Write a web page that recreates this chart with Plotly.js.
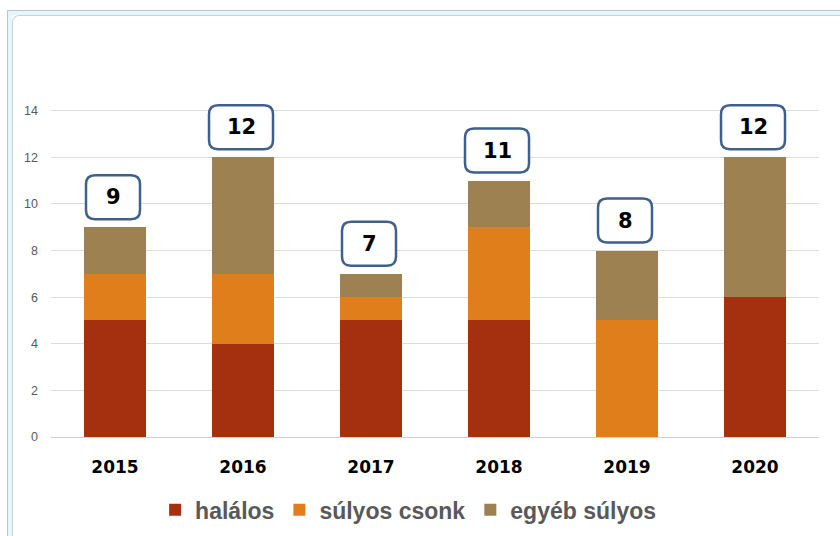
<!DOCTYPE html>
<html>
<head>
<meta charset="utf-8">
<script src="https://cdn.plot.ly/plotly-3.0.1.min.js"></script>
<style>
  html, body { margin: 0; padding: 0; background: #ffffff; }
  #wrap { position: relative; width: 840px; height: 536px; overflow: hidden; }
  #frame { position: absolute; left: 7px; top: 10px; width: 900px; height: 600px;
           border-left: 1px solid #b9c6ca; border-top: 1px solid #b9c6ca; box-sizing: border-box; }
  #frame2 { position: absolute; left: 8px; top: 11px; width: 900px; height: 600px;
           border-left: 4px solid #e4f7fb; border-top: 4px solid #e4f7fb; box-sizing: border-box; }
  #frame3 { position: absolute; left: 12px; top: 15px; width: 900px; height: 600px;
           border-left: 1px solid #c9d2d5; border-top: 1px solid #c9d2d5; border-top-left-radius: 7px; box-sizing: border-box; }
  #chart { position: absolute; left: 0; top: 0; width: 840px; height: 536px; }
</style>
</head>
<body>
<div id="wrap">
  <div id="chart"></div>
  <div id="frame"></div>
  <div id="frame2"></div>
  <div id="frame3"></div>
</div>
<script>
const years = ['2015', '2016', '2017', '2018', '2019', '2020'];
const halalos = [5, 4, 5, 5, 0, 6];
const sulyosCsonk = [2, 3, 1, 4, 5, 0];
const egyebSulyos = [2, 5, 1, 2, 3, 6];
const seriesNames = ['halálos', 'súlyos csonk', 'egyéb súlyos'];
const seriesColors = ['#A5300F', '#E07E1B', '#9E8150'];

const totals = years.map((_, i) => halalos[i] + sulyosCsonk[i] + egyebSulyos[i]);

const traces = [halalos, sulyosCsonk, egyebSulyos].map((vals, k) => ({
  type: 'bar',
  x: years,
  y: vals,
  name: seriesNames[k],
  marker: { color: seriesColors[k], line: { width: 0 } },
  hoverinfo: 'x+y+name'
}));

function roundedRect(x0, x1, y0, y1, r) {
  return 'M' + (x0 + r) + ',' + y0 +
    ' L' + (x1 - r) + ',' + y0 +
    ' Q' + x1 + ',' + y0 + ' ' + x1 + ',' + (y0 + r) +
    ' L' + x1 + ',' + (y1 - r) +
    ' Q' + x1 + ',' + y1 + ' ' + (x1 - r) + ',' + y1 +
    ' L' + (x0 + r) + ',' + y1 +
    ' Q' + x0 + ',' + y1 + ' ' + x0 + ',' + (y1 - r) +
    ' L' + x0 + ',' + (y0 + r) +
    ' Q' + x0 + ',' + y0 + ' ' + (x0 + r) + ',' + y0 + ' Z';
}

const gap = 8, boxH = 44, shiftX = -2;
const shapes = years.map((yr, i) => {
  const label = String(totals[i]);
  const w = 44 + 10 * label.length;
  return {
    type: 'path',
    xref: 'x', yref: 'y',
    xsizemode: 'pixel', ysizemode: 'pixel',
    xanchor: i, yanchor: totals[i],
    path: roundedRect(shiftX - w / 2, shiftX + w / 2, gap, gap + boxH, 9),
    fillcolor: '#ffffff',
    line: { color: '#3F5F8C', width: 2.5 },
    layer: 'above'
  };
});

const annotations = years.map((yr, i) => ({
  x: i, y: totals[i],
  xref: 'x', yref: 'y',
  text: String(totals[i]),
  showarrow: false,
  xshift: shiftX,
  yshift: gap + boxH / 2,
  font: { family: 'DejaVu Sans', size: 21, color: '#000000', weight: 'bold' }
}));

const layout = {
  width: 840, height: 536,
  margin: { l: 51, r: 21, t: 99, b: 99, autoexpand: false },
  paper_bgcolor: '#ffffff',
  plot_bgcolor: '#ffffff',
  barmode: 'stack',
  bargap: 0.52,
  showlegend: true,
  legend: {
    orientation: 'h',
    x: 0.465, xanchor: 'center',
    yref: 'container',
    y: 0.049, yanchor: 'middle',
    font: { family: 'Liberation Sans', size: 23, color: '#595959', weight: 'bold' },
    traceorder: 'normal',
    itemwidth: 30
  },
  xaxis: {
    type: 'category',
    range: [-0.5, 5.5],
    autorange: false,
    automargin: false,
    tickfont: { family: 'DejaVu Sans', size: 17, color: '#000000', weight: 'bold' },
    ticks: '',
    ticklabelstandoff: 18,
    showline: false,
    showgrid: false,
    zeroline: false
  },
  yaxis: {
    range: [0, 14.5],
    autorange: false,
    automargin: false,
    tickvals: [0, 2, 4, 6, 8, 10, 12, 14],
    ticktext: ['0', '2', '4', '6', '8', '10', '12', '14'],
    tickfont: { family: 'Liberation Sans', size: 12.5, color: '#595959' },
    ticks: '',
    ticklabelstandoff: 12,
    showgrid: true,
    gridcolor: '#dcdcdc',
    gridwidth: 1,
    zeroline: true,
    zerolinecolor: '#d0d0d0',
    zerolinewidth: 1,
    showline: false
  },
  shapes: shapes,
  annotations: annotations
};

Plotly.newPlot('chart', traces, layout, { displayModeBar: false, responsive: false });
</script>
</body>
</html>
